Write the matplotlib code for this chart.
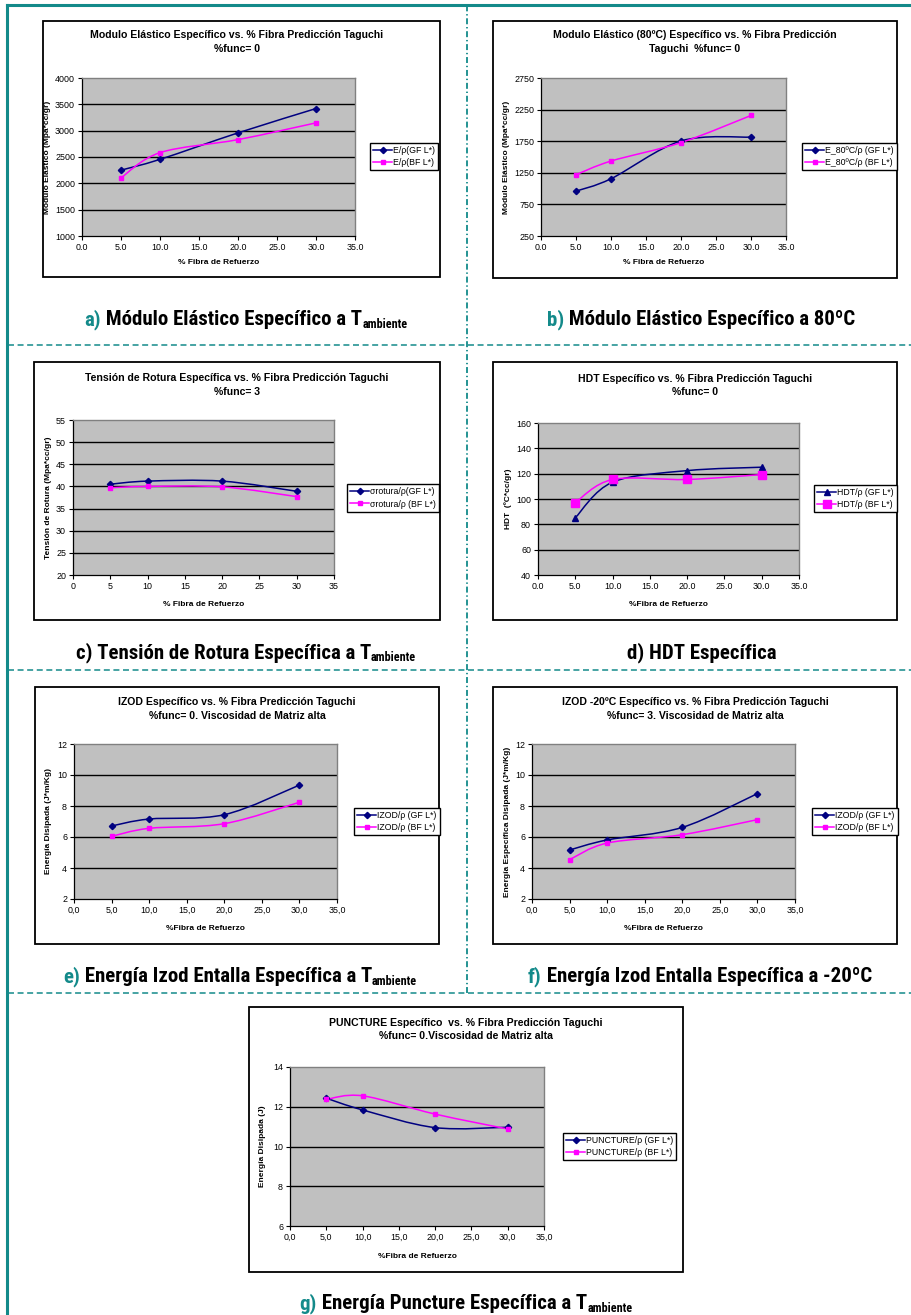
import matplotlib
matplotlib.use('Agg')
import matplotlib.pyplot as plt
from matplotlib.path import Path
from matplotlib.patches import PathPatch, Rectangle
from matplotlib.lines import Line2D
from matplotlib import font_manager
import matplotlib.ticker as mticker

plt.rcParams['font.family'] = ['Liberation Sans', 'DejaVu Sans']
plt.rcParams['lines.scale_dashes'] = False

W, H, DPI = 912, 1315, 100

# ---------------- data ----------------
fiber = [5, 10, 20, 30]

a_gf = [2250, 2455, 2958, 3420]
a_bf = [2105, 2583, 2830, 3148]
b_gf = [960, 1156, 1754, 1815]
b_bf = [1219, 1436, 1728, 2157]
c_gf = [40.5, 41.2, 41.2, 38.9]
c_bf = [39.7, 40.0, 39.9, 37.7]
d_gf = [85.2, 113.3, 122.4, 125.1]
d_bf = [97.2, 115.4, 115.4, 119.3]
e_gf = [6.71, 7.16, 7.44, 9.35]
e_bf = [6.04, 6.56, 6.86, 8.24]
f_gf = [5.16, 5.81, 6.62, 8.80]
f_bf = [4.54, 5.61, 6.15, 7.12]
g_gf = [12.43, 11.84, 10.95, 10.97]
g_bf = [12.37, 12.55, 11.63, 10.88]

titles = {
    'a': "Modulo Elástico Específico vs. % Fibra Predicción Taguchi\n%func= 0",
    'b': "Modulo Elástico (80ºC) Específico vs. % Fibra Predicción\nTaguchi  %func= 0",
    'c': "Tensión de Rotura Específica vs. % Fibra Predicción Taguchi\n%func= 3",
    'd': "HDT Específico vs. % Fibra Predicción Taguchi\n%func= 0",
    'e': "IZOD Específico vs. % Fibra Predicción Taguchi\n%func= 0. Viscosidad de Matriz alta",
    'f': "IZOD -20ºC Específico vs. % Fibra Predicción Taguchi\n%func= 3. Viscosidad de Matriz alta",
    'g': "PUNCTURE Específico  vs. % Fibra Predicción Taguchi\n%func= 0.Viscosidad de Matriz alta",
}
ylabels = {
    'a': "Módulo Elástico (Mpa*cc/gr)",
    'b': "Módulo Elástico (Mpa*cc/gr)",
    'c': "Tensión de Rotura (Mpa*cc/gr)",
    'd': "HDT  (ºC*cc/gr)",
    'e': "Energía Disipada (J*m/Kg)",
    'f': "Energía Específica Disipada (J*m/Kg)",
    'g': "Energía Disipada (J)",
}
xlabels = {
    'a': "% Fibra de Refuerzo", 'b': "% Fibra de Refuerzo", 'c': "% Fibra de Refuerzo",
    'd': "%Fibra de Refuerzo", 'e': "%Fibra de Refuerzo", 'f': "%Fibra de Refuerzo",
    'g': "%Fibra de Refuerzo",
}
legends = {
    'a': ["E/ρ(GF L*)", "E/ρ(BF L*)"],
    'b': ["E_80ºC/ρ (GF L*)", "E_80ºC/ρ (BF L*)"],
    'c': ["σrotura/ρ(GF L*)", "σrotura/ρ (BF L*)"],
    'd': ["HDT/ρ (GF L*)", "HDT/ρ (BF L*)"],
    'e': ["IZOD/ρ (GF L*)", "IZOD/ρ (BF L*)"],
    'f': ["IZOD/ρ (GF L*)", "IZOD/ρ (BF L*)"],
    'g': ["PUNCTURE/ρ (GF L*)", "PUNCTURE/ρ (BF L*)"],
}
yticks = {
    'a': list(range(1000, 4001, 500)),
    'b': list(range(250, 2751, 500)),
    'c': list(range(20, 56, 5)),
    'd': list(range(40, 161, 20)),
    'e': list(range(2, 13, 2)),
    'f': list(range(2, 13, 2)),
    'g': list(range(6, 15, 2)),
}
xticks = list(range(0, 36, 5))
xfmt = {'a': 'dot', 'b': 'dot', 'c': 'int', 'd': 'dot', 'e': 'comma', 'f': 'comma', 'g': 'comma'}
series = {
    'a': (a_gf, a_bf), 'b': (b_gf, b_bf), 'c': (c_gf, c_bf), 'd': (d_gf, d_bf),
    'e': (e_gf, e_bf), 'f': (f_gf, f_bf), 'g': (g_gf, g_bf),
}

# ---------------- layout (pixels) ----------------
layout = {
    #      box (l,t,r,b)         plot (l,t,r,b)        legend(l,t,r,b)      title(x,y)  ylab x  xlab y
    'a': ((43, 21, 440, 277), (82, 78, 355, 236), (370, 143, 437, 170), (237, 42), 48, 263),
    'b': ((493, 21, 897, 278), (541, 78, 786, 236), (802, 143, 894, 170), (695, 42), 507, 263),
    'c': ((34, 362, 440, 620), (73, 420, 334, 575), (347, 484, 437, 512), (237, 385), 49, 604),
    'd': ((493, 362, 897, 620), (538, 423, 799, 575), (814, 484, 894, 513), (695, 385.5), 508, 604),
    'e': ((35, 687, 439, 944), (74, 744, 337, 899), (354, 807, 437, 836), (237, 709), 49, 928),
    'f': ((493, 687, 897, 944), (532, 744, 795, 899), (812, 807, 894, 836), (695, 709), 508, 928),
    'g': ((249, 1007, 683, 1272), (290, 1067, 544, 1226), (563, 1132, 679, 1161), (466, 1029.5), 263, 1256),
}

GF_COL = '#000080'
BF_COL = '#FF00FF'
TEAL = '#138A8A'

fig = plt.figure(figsize=(W / DPI, H / DPI), dpi=DPI)
fig.patch.set_facecolor('white')


def fx(px):
    return px / W


def fy(py):
    return 1 - py / H


def smooth_path(x, y):
    pts = list(zip(x, y))
    n = len(pts)
    verts = [pts[0]]
    codes = [Path.MOVETO]
    for i in range(n - 1):
        p0 = pts[i - 1] if i > 0 else pts[i]
        p1 = pts[i]
        p2 = pts[i + 1]
        p3 = pts[i + 2] if i + 2 < n else pts[i + 1]
        c1 = (p1[0] + (p2[0] - p0[0]) / 6, p1[1] + (p2[1] - p0[1]) / 6)
        c2 = (p2[0] - (p3[0] - p1[0]) / 6, p2[1] - (p3[1] - p1[1]) / 6)
        verts += [c1, c2, p2]
        codes += [Path.CURVE4] * 3
    return Path(verts, codes)


def make_fmt(kind):
    if kind == 'int':
        return mticker.FuncFormatter(lambda v, p: f"{v:.0f}")
    if kind == 'comma':
        return mticker.FuncFormatter(lambda v, p: f"{v:.1f}".replace('.', ','))
    return mticker.FuncFormatter(lambda v, p: f"{v:.1f}")


for key in 'abcdefg':
    box, plot, leg, (tx, ty), ylx, xly = layout[key]
    # chart frame
    fig.add_artist(Rectangle((fx(box[0]), fy(box[3])), fx(box[2] - box[0]), (box[3] - box[1]) / H,
                             transform=fig.transFigure, facecolor='white', edgecolor='black',
                             linewidth=1.3, zorder=0))
    ax = fig.add_axes([fx(plot[0]), fy(plot[3]), fx(plot[2] - plot[0]), (plot[3] - plot[1]) / H])
    ax.set_facecolor('#C0C0C0')
    yt = yticks[key]
    ax.set_xlim(0, 35)
    ax.set_ylim(yt[0], yt[-1])
    ax.set_xticks(xticks)
    ax.set_yticks(yt)
    ax.xaxis.set_major_formatter(make_fmt(xfmt[key]))
    ax.yaxis.set_major_formatter(mticker.FuncFormatter(lambda v, p: f"{v:.0f}"))
    for v in yt[1:-1]:
        ax.axhline(v, color='black', linewidth=1.0, zorder=1)
    for s in ['top', 'right']:
        ax.spines[s].set_color('#808080')
        ax.spines[s].set_linewidth(1.0)
    for s in ['left', 'bottom']:
        ax.spines[s].set_color('black')
        ax.spines[s].set_linewidth(0.9)
    ax.tick_params(direction='out', length=3, width=0.8, labelsize=6.4, pad=2, colors='black')

    gf, bf = series[key]
    ax.add_patch(PathPatch(smooth_path(fiber, gf), fill=False, edgecolor=GF_COL, linewidth=1.1, zorder=3))
    ax.add_patch(PathPatch(smooth_path(fiber, bf), fill=False, edgecolor=BF_COL, linewidth=1.1, zorder=3))
    if key == 'd':
        gm, gms, bm, bms = '^', 4.2, 's', 5.2
    else:
        gm, gms, bm, bms = 'D', 3.2, 's', 3.5
    ax.plot(fiber, gf, linestyle='none', marker=gm, ms=gms, color=GF_COL, zorder=4, clip_on=False)
    ax.plot(fiber, bf, linestyle='none', marker=bm, ms=bms, color=BF_COL, zorder=4, clip_on=False)

    handles = [Line2D([], [], color=GF_COL, lw=1.1, marker=gm, ms=gms),
               Line2D([], [], color=BF_COL, lw=1.1, marker=bm, ms=bms)]
    lg = fig.legend(handles, legends[key], loc='center left',
                    bbox_to_anchor=(fx(leg[0]), fy((leg[1] + leg[3]) / 2)),
                    bbox_transform=fig.transFigure, fontsize=6.3, frameon=True, fancybox=False,
                    edgecolor='black', framealpha=1, handlelength=2.2, handletextpad=0.1,
                    borderpad=0.35, labelspacing=0.35, borderaxespad=0)
    lg.get_frame().set_linewidth(1.0)

    fig.text(fx(tx), fy(ty), titles[key], ha='center', va='center', fontsize=7.6,
             fontweight='bold', linespacing=1.4)
    fig.text(fx(ylx), fy((plot[1] + plot[3]) / 2), ylabels[key], rotation=90, ha='center',
             va='center', fontsize=6.0, fontweight='bold')
    fig.text(fx((plot[0] + plot[2]) / 2), fy(xly), xlabels[key], ha='center', va='center',
             fontsize=6.0, fontweight='bold')

# ---------------- frame & separators ----------------
fig.add_artist(Line2D([fx(7), fx(7)], [0, fy(5)], color=TEAL, linewidth=2.2, transform=fig.transFigure))
fig.add_artist(Line2D([fx(7), 1], [fy(5), fy(5)], color=TEAL, linewidth=2.2, transform=fig.transFigure))
for yy in [345, 670, 993]:
    fig.add_artist(Line2D([fx(8), 1], [fy(yy), fy(yy)], color=TEAL, linewidth=1.1,
                          dashes=(4.3, 2.6), transform=fig.transFigure))
fig.add_artist(Line2D([fx(467), fx(467)], [fy(993), fy(6)], color=TEAL, linewidth=1.3,
                      dashes=(4.3, 2.0, 1.0, 2.0), transform=fig.transFigure))

# ---------------- captions ----------------
avail = {f.name for f in font_manager.fontManager.ttflist}
cap_family = next((f for f in ['Liberation Sans Narrow', 'Roboto Condensed', 'Open Sans Condensed']
                   if f in avail), 'Liberation Sans')
renderer = fig.canvas.get_renderer()

probe = fig.text(0, 0, "b) Módulo Elástico Específico a 80ºC", fontsize=10, fontweight='bold',
                 family=cap_family)
wprobe = probe.get_window_extent(renderer).width
probe.remove()
CAP_SIZE = 10 * 308 / wprobe

captions = [
    ([("a)", TEAL, 0), (" Módulo Elástico Específico a T", 'black', 0), ("ambiente", 'black', 1)], 246, 318),
    ([("b)", TEAL, 0), (" Módulo Elástico Específico a 80ºC", 'black', 0)], 701, 318),
    ([("c) Tensión de Rotura Específica a T", 'black', 0), ("ambiente", 'black', 1)], 246, 651),
    ([("d) HDT Específica", 'black', 0)], 702, 651),
    ([("e)", TEAL, 0), (" Energía Izod Entalla Específica a T", 'black', 0), ("ambiente", 'black', 1)], 240, 975),
    ([("f)", TEAL, 0), (" Energía Izod Entalla Específica a -20ºC", 'black', 0)], 700, 975),
    ([("g)", TEAL, 0), (" Energía Puncture Específica a T", 'black', 0), ("ambiente", 'black', 1)], 466, 1302),
]
cap_px = CAP_SIZE * DPI / 72
for parts, cx, cy in captions:
    items = []
    for s, col, sub in parts:
        fs = CAP_SIZE * (0.58 if sub else 1.0)
        t = fig.text(0, 0, s, color=col, fontsize=fs, fontweight='bold', family=cap_family,
                     ha='left', va='baseline')
        items.append((t, sub))
    widths = [t.get_window_extent(renderer).width for t, _ in items]
    x = cx - sum(widths) / 2
    base = cy + cap_px * 0.36
    for (t, sub), w in zip(items, widths):
        yb = base + (cap_px * 0.14 if sub else 0)
        t.set_position((fx(x), fy(yb)))
        x += w

fig.savefig('out.png', dpi=DPI, facecolor='white')
